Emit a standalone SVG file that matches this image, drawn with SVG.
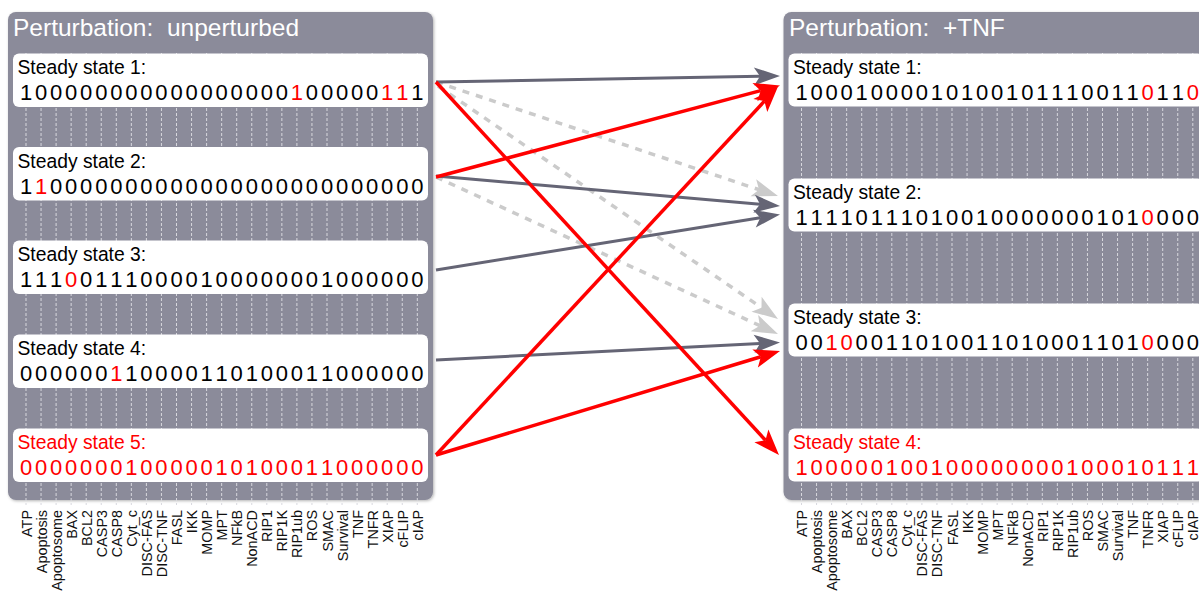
<svg xmlns="http://www.w3.org/2000/svg" width="1199" height="592" viewBox="0 0 1199 592">
<style>
.panel{fill:#8b8b9a}
.title{font-family:"Liberation Sans",Arial,sans-serif;font-size:24.5px;fill:#fff}
.box{fill:#fff}
.name{font-family:"Liberation Sans",Arial,sans-serif;font-size:19.3px;fill:#000}
.bits{font-family:"Liberation Sans",Arial,sans-serif;font-size:22px;fill:#000;text-anchor:middle}
.hot{fill:#f00}
.guide{fill:none;stroke:#d8d8de;stroke-width:1;stroke-dasharray:3 2}
.var{font-family:"Liberation Sans",Arial,sans-serif;font-size:14.4px;fill:#111;text-anchor:end}
.edge{fill:none;stroke-width:3}
.dark{stroke:#656575}
.red{stroke:#f00;stroke-width:3.5}
.ghost{stroke:#cbcbcb;stroke-width:3.5;stroke-dasharray:7 7}
</style>
<defs>
  <filter id="shade" x="-5%" y="-5%" width="110%" height="110%">
    <feDropShadow dx="1" dy="1" stdDeviation="1.5" flood-color="#000" flood-opacity="0.3"/>
  </filter>
  <marker id="head-dark" markerUnits="userSpaceOnUse" markerWidth="40" markerHeight="40" viewBox="-10 -20 40 40" refX="0" refY="0" orient="auto" overflow="visible">
    <path d="M20,0 L-6,-9 L0,0 L-6,9 Z" fill="#656575"/>
  </marker>
  <marker id="head-red" markerUnits="userSpaceOnUse" markerWidth="40" markerHeight="40" viewBox="-10 -20 40 40" refX="0" refY="0" orient="auto" overflow="visible">
    <path d="M20,0 L-6,-9.5 L0,0 L-6,9.5 Z" fill="#f00"/>
  </marker>
  <marker id="head-ghost" markerUnits="userSpaceOnUse" markerWidth="40" markerHeight="40" viewBox="-10 -20 40 40" refX="0" refY="0" orient="auto" overflow="visible">
    <path d="M20,0 L-6,-9 L0,0 L-6,9 Z" fill="#cbcbcb"/>
  </marker>
</defs>

<!-- left panel: unperturbed -->
<g id="panel-unperturbed">
  <rect class="panel" x="8" y="12" width="425" height="488" rx="8" filter="url(#shade)"/>
  <text class="title" x="13" y="36">Perturbation:&#160; unperturbed</text>
  <path class="guide" d="M26 53V505M41.05 53V505M56.1 53V505M71.15 53V505M86.2 53V505M101.25 53V505M116.3 53V505M131.35 53V505M146.4 53V505M161.45 53V505M176.5 53V505M191.55 53V505M206.6 53V505M221.65 53V505M236.7 53V505M251.75 53V505M266.8 53V505M281.85 53V505M296.9 53V505M311.95 53V505M327 53V505M342.05 53V505M357.1 53V505M372.15 53V505M387.2 53V505M402.25 53V505M417.3 53V505"/>
  <g id="u-ss1">
    <rect class="box" x="13" y="53.5" width="415" height="53.5" rx="6"/>
    <text class="name" x="17.5" y="74">Steady state 1:</text>
    <text class="bits" y="100" x="26 41.05 56.1 71.15 86.2 101.25 116.3 131.35 146.4 161.45 176.5 191.55 206.6 221.65 236.7 251.75 266.8 281.85 296.9 311.95 327 342.05 357.1 372.15 387.2 402.25 417.3">100000000000000000<tspan class="hot">1</tspan>00000<tspan class="hot">11</tspan>1</text>
  </g>
  <g id="u-ss2">
    <rect class="box" x="13" y="147" width="415" height="53.5" rx="6"/>
    <text class="name" x="17.5" y="167.5">Steady state 2:</text>
    <text class="bits" y="193.5" x="26 41.05 56.1 71.15 86.2 101.25 116.3 131.35 146.4 161.45 176.5 191.55 206.6 221.65 236.7 251.75 266.8 281.85 296.9 311.95 327 342.05 357.1 372.15 387.2 402.25 417.3">1<tspan class="hot">1</tspan>0000000000000000000000000</text>
  </g>
  <g id="u-ss3">
    <rect class="box" x="13" y="240.5" width="415" height="53.5" rx="6"/>
    <text class="name" x="17.5" y="261">Steady state 3:</text>
    <text class="bits" y="287" x="26 41.05 56.1 71.15 86.2 101.25 116.3 131.35 146.4 161.45 176.5 191.55 206.6 221.65 236.7 251.75 266.8 281.85 296.9 311.95 327 342.05 357.1 372.15 387.2 402.25 417.3">111<tspan class="hot">0</tspan>01110000100000001000000</text>
  </g>
  <g id="u-ss4">
    <rect class="box" x="13" y="334.5" width="415" height="53.5" rx="6"/>
    <text class="name" x="17.5" y="355">Steady state 4:</text>
    <text class="bits" y="381" x="26 41.05 56.1 71.15 86.2 101.25 116.3 131.35 146.4 161.45 176.5 191.55 206.6 221.65 236.7 251.75 266.8 281.85 296.9 311.95 327 342.05 357.1 372.15 387.2 402.25 417.3">000000<tspan class="hot">1</tspan>10000110100011000000</text>
  </g>
  <g id="u-ss5">
    <rect class="box" x="13" y="428.5" width="415" height="53.5" rx="6"/>
    <text class="name hot" x="17.5" y="449">Steady state 5:</text>
    <text class="bits hot" y="475" x="26 41.05 56.1 71.15 86.2 101.25 116.3 131.35 146.4 161.45 176.5 191.55 206.6 221.65 236.7 251.75 266.8 281.85 296.9 311.95 327 342.05 357.1 372.15 387.2 402.25 417.3">000000010000010100011000000</text>
  </g>
  <g id="u-vars" class="var">
    <text transform="translate(31.5 510) rotate(-90)">ATP</text>
    <text transform="translate(46.55 510) rotate(-90)">Apoptosis</text>
    <text transform="translate(61.6 510) rotate(-90)">Apoptosome</text>
    <text transform="translate(76.65 510) rotate(-90)">BAX</text>
    <text transform="translate(91.7 510) rotate(-90)">BCL2</text>
    <text transform="translate(106.75 510) rotate(-90)">CASP3</text>
    <text transform="translate(121.8 510) rotate(-90)">CASP8</text>
    <text transform="translate(136.85 510) rotate(-90)">Cyt_c</text>
    <text transform="translate(151.9 510) rotate(-90)">DISC-FAS</text>
    <text transform="translate(166.95 510) rotate(-90)">DISC-TNF</text>
    <text transform="translate(182 510) rotate(-90)">FASL</text>
    <text transform="translate(197.05 510) rotate(-90)">IKK</text>
    <text transform="translate(212.1 510) rotate(-90)">MOMP</text>
    <text transform="translate(227.15 510) rotate(-90)">MPT</text>
    <text transform="translate(242.2 510) rotate(-90)">NFkB</text>
    <text transform="translate(257.25 510) rotate(-90)">NonACD</text>
    <text transform="translate(272.3 510) rotate(-90)">RIP1</text>
    <text transform="translate(287.35 510) rotate(-90)">RIP1K</text>
    <text transform="translate(302.4 510) rotate(-90)">RIP1ub</text>
    <text transform="translate(317.45 510) rotate(-90)">ROS</text>
    <text transform="translate(332.5 510) rotate(-90)">SMAC</text>
    <text transform="translate(347.55 510) rotate(-90)">Survival</text>
    <text transform="translate(362.6 510) rotate(-90)">TNF</text>
    <text transform="translate(377.65 510) rotate(-90)">TNFR</text>
    <text transform="translate(392.7 510) rotate(-90)">XIAP</text>
    <text transform="translate(407.75 510) rotate(-90)">cFLIP</text>
    <text transform="translate(422.8 510) rotate(-90)">cIAP</text>
  </g>
</g>

<!-- right panel: +TNF (same column grid, shifted right) -->
<g id="panel-tnf" transform="translate(775.5 0)">
  <rect class="panel" x="8" y="12" width="425" height="488" rx="8" filter="url(#shade)"/>
  <text class="title" x="13.5" y="36">Perturbation:&#160; +TNF</text>
  <path class="guide" d="M26 53V505M41.05 53V505M56.1 53V505M71.15 53V505M86.2 53V505M101.25 53V505M116.3 53V505M131.35 53V505M146.4 53V505M161.45 53V505M176.5 53V505M191.55 53V505M206.6 53V505M221.65 53V505M236.7 53V505M251.75 53V505M266.8 53V505M281.85 53V505M296.9 53V505M311.95 53V505M327 53V505M342.05 53V505M357.1 53V505M372.15 53V505M387.2 53V505M402.25 53V505M417.3 53V505"/>
  <g id="t-ss1">
    <rect class="box" x="13" y="53.5" width="415" height="53" rx="6"/>
    <text class="name" x="17.5" y="74">Steady state 1:</text>
    <text class="bits" y="100" x="26 41.05 56.1 71.15 86.2 101.25 116.3 131.35 146.4 161.45 176.5 191.55 206.6 221.65 236.7 251.75 266.8 281.85 296.9 311.95 327 342.05 357.1 372.15 387.2 402.25 417.3">10001000010100101110011<tspan class="hot">0</tspan>11<tspan class="hot">0</tspan></text>
  </g>
  <g id="t-ss2">
    <rect class="box" x="13" y="178.5" width="415" height="53" rx="6"/>
    <text class="name" x="17.5" y="199">Steady state 2:</text>
    <text class="bits" y="225" x="26 41.05 56.1 71.15 86.2 101.25 116.3 131.35 146.4 161.45 176.5 191.55 206.6 221.65 236.7 251.75 266.8 281.85 296.9 311.95 327 342.05 357.1 372.15 387.2 402.25 417.3">11110111010010000000101<tspan class="hot">0</tspan>000</text>
  </g>
  <g id="t-ss3">
    <rect class="box" x="13" y="303.5" width="415" height="53" rx="6"/>
    <text class="name" x="17.5" y="324">Steady state 3:</text>
    <text class="bits" y="350" x="26 41.05 56.1 71.15 86.2 101.25 116.3 131.35 146.4 161.45 176.5 191.55 206.6 221.65 236.7 251.75 266.8 281.85 296.9 311.95 327 342.05 357.1 372.15 387.2 402.25 417.3">00<tspan class="hot">10</tspan>0011010011010001101<tspan class="hot">0</tspan>000</text>
  </g>
  <g id="t-ss4">
    <rect class="box" x="13" y="428.5" width="415" height="53" rx="6"/>
    <text class="name hot" x="17.5" y="449">Steady state 4:</text>
    <text class="bits hot" y="475" x="26 41.05 56.1 71.15 86.2 101.25 116.3 131.35 146.4 161.45 176.5 191.55 206.6 221.65 236.7 251.75 266.8 281.85 296.9 311.95 327 342.05 357.1 372.15 387.2 402.25 417.3">100000100100000000100010111</text>
  </g>
  <g id="t-vars" class="var">
    <text transform="translate(31.5 510) rotate(-90)">ATP</text>
    <text transform="translate(46.55 510) rotate(-90)">Apoptosis</text>
    <text transform="translate(61.6 510) rotate(-90)">Apoptosome</text>
    <text transform="translate(76.65 510) rotate(-90)">BAX</text>
    <text transform="translate(91.7 510) rotate(-90)">BCL2</text>
    <text transform="translate(106.75 510) rotate(-90)">CASP3</text>
    <text transform="translate(121.8 510) rotate(-90)">CASP8</text>
    <text transform="translate(136.85 510) rotate(-90)">Cyt_c</text>
    <text transform="translate(151.9 510) rotate(-90)">DISC-FAS</text>
    <text transform="translate(166.95 510) rotate(-90)">DISC-TNF</text>
    <text transform="translate(182 510) rotate(-90)">FASL</text>
    <text transform="translate(197.05 510) rotate(-90)">IKK</text>
    <text transform="translate(212.1 510) rotate(-90)">MOMP</text>
    <text transform="translate(227.15 510) rotate(-90)">MPT</text>
    <text transform="translate(242.2 510) rotate(-90)">NFkB</text>
    <text transform="translate(257.25 510) rotate(-90)">NonACD</text>
    <text transform="translate(272.3 510) rotate(-90)">RIP1</text>
    <text transform="translate(287.35 510) rotate(-90)">RIP1K</text>
    <text transform="translate(302.4 510) rotate(-90)">RIP1ub</text>
    <text transform="translate(317.45 510) rotate(-90)">ROS</text>
    <text transform="translate(332.5 510) rotate(-90)">SMAC</text>
    <text transform="translate(347.55 510) rotate(-90)">Survival</text>
    <text transform="translate(362.6 510) rotate(-90)">TNF</text>
    <text transform="translate(377.65 510) rotate(-90)">TNFR</text>
    <text transform="translate(392.7 510) rotate(-90)">XIAP</text>
    <text transform="translate(407.75 510) rotate(-90)">cFLIP</text>
    <text transform="translate(422.8 510) rotate(-90)">cIAP</text>
  </g>
</g>

<!-- transitions between steady states -->
<g id="connectors">
  <g id="weak-transitions">
    <path class="edge ghost" d="M436 82L759.03 189.68" marker-end="url(#head-ghost)"/>
    <path class="edge ghost" d="M438 86L761.5 307.69" marker-end="url(#head-ghost)"/>
    <path class="edge ghost" d="M436 177L759.82 325.66" marker-end="url(#head-ghost)"/>
  </g>
  <g id="transitions">
    <path class="edge dark" d="M436 82L760 76.35" marker-end="url(#head-dark)"/>
    <path class="edge dark" d="M436 176L760.08 204.26" marker-end="url(#head-dark)"/>
    <path class="edge dark" d="M436 270L760.26 217.69" marker-end="url(#head-dark)"/>
    <path class="edge dark" d="M436 360L760.03 343.52" marker-end="url(#head-dark)"/>
  </g>
  <g id="highlighted-transitions">
    <path class="edge red" d="M436 82L765.46 440.28" marker-end="url(#head-red)"/>
    <path class="edge red" d="M436 177L760.67 90.64" marker-end="url(#head-red)"/>
    <path class="edge red" d="M436 455L764.4 101.16" marker-end="url(#head-red)"/>
    <path class="edge red" d="M436 455L760.86 356.79" marker-end="url(#head-red)"/>
  </g>
</g>
</svg>
